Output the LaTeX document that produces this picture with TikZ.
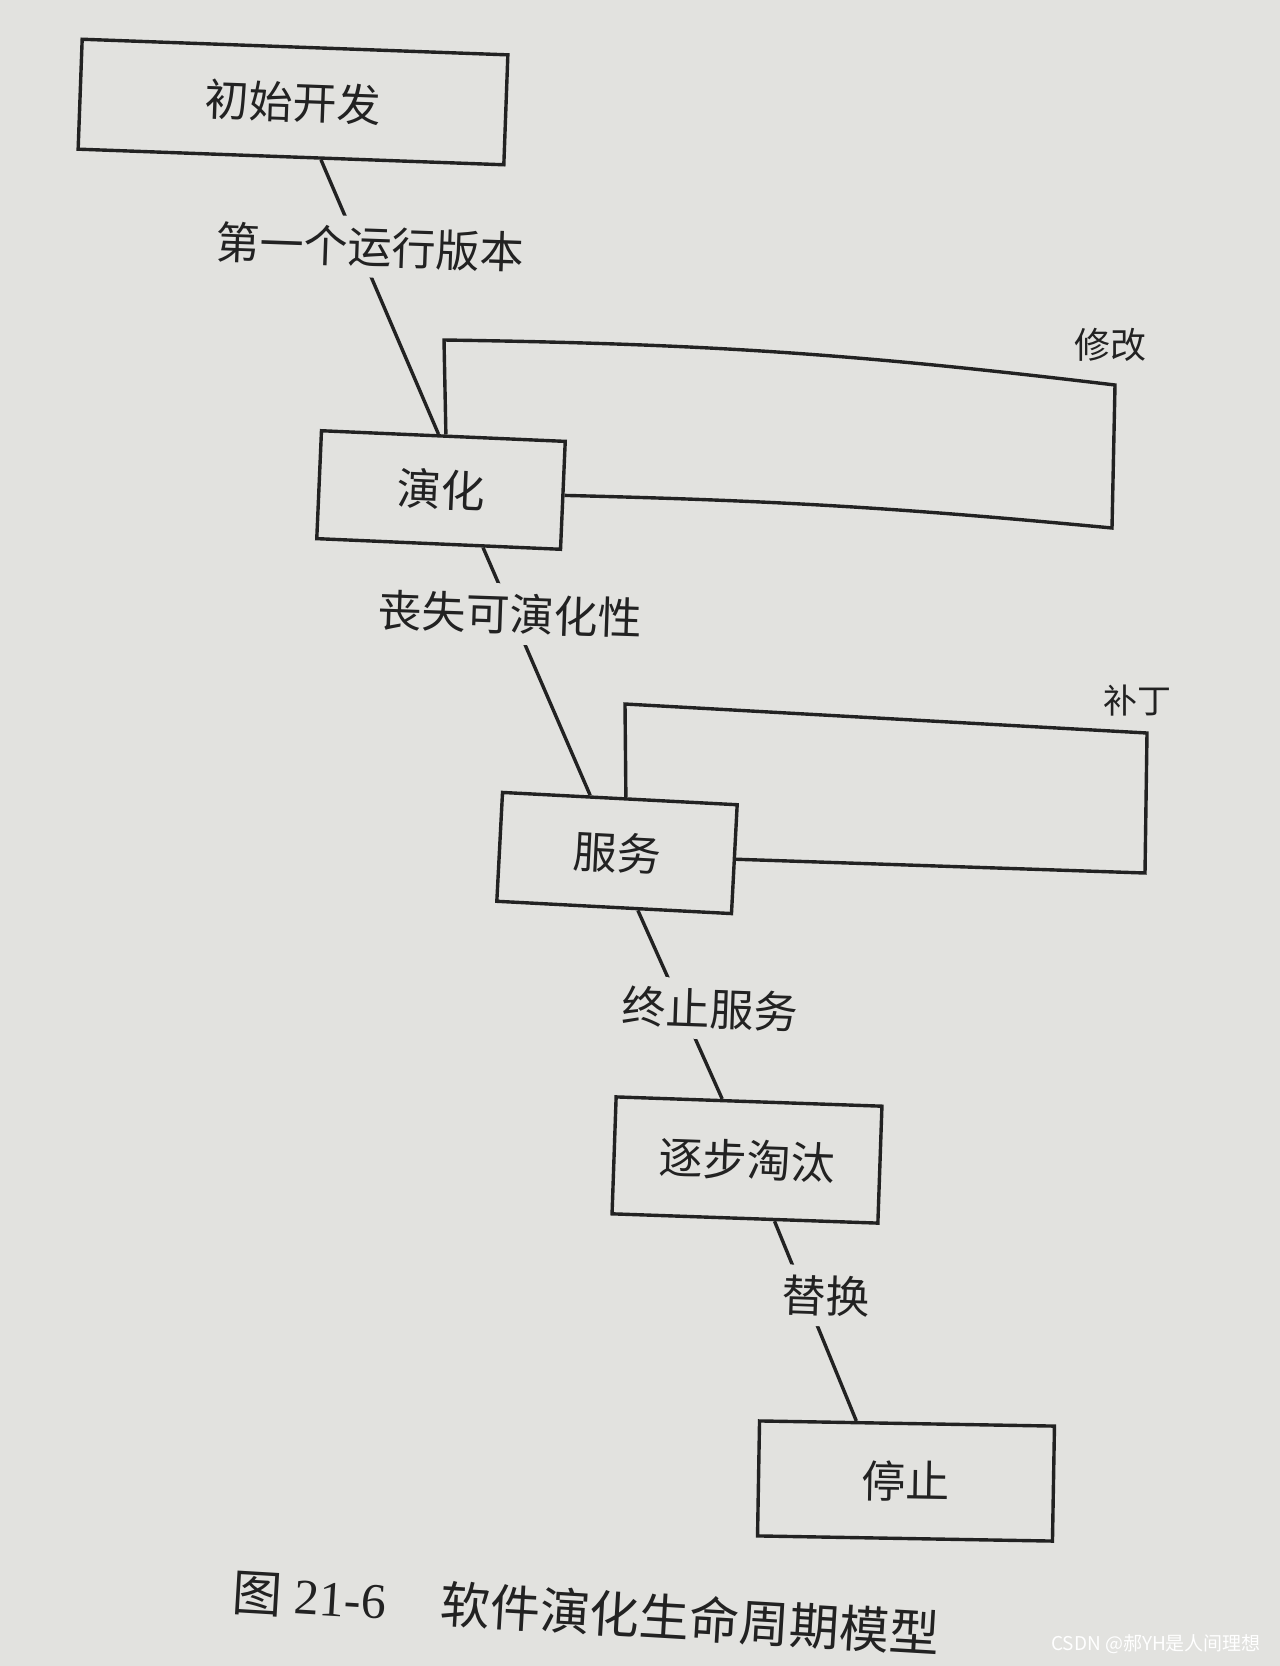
\documentclass[tikz,border=0pt]{standalone}
\usepackage{fontspec}
\setmainfont{Liberation Serif}
\newfontfamily\cjk{Noto Sans CJK SC}
\usetikzlibrary{calc}
\definecolor{paper}{RGB}{226,226,223}
\definecolor{ink}{RGB}{34,34,34}
\tikzset{
  stage/.style={draw=ink, line width=1.7pt, rotate=-2.5, text=ink, inner sep=0pt,
    font=\cjk\fontsize{22}{22}\selectfont},
  tag/.style={fill=paper, inner sep=5pt, rotate=-2, text=ink,
    font=\cjk\fontsize{22}{22}\selectfont},
  side/.style={text=ink, font=\cjk\fontsize{18}{18}\selectfont},
  link/.style={draw=ink, line width=1.7pt},
}

\begin{document}
\begin{tikzpicture}[x=0.5pt, y=-0.5pt]
  % Coordinates
  \coordinate (I) at (293,102);
  \coordinate (E) at (441,490);
  \coordinate (S) at (617,853);
  \coordinate (F) at (747,1160);
  \coordinate (T) at (906,1481);
  \coordinate (M1) at (444,340);
  \coordinate (M2) at (1115,385);
  \coordinate (M3) at (1112,528);
  \coordinate (P1) at (625,704);
  \coordinate (P2) at (1147,733);
  \coordinate (P3) at (1145,873);

  % Paper
  \fill[paper] (0,0) rectangle (1280,1666);
  \useasboundingbox (0,0) rectangle (1280,1666);

  % Drawing
  \node[stage, rotate=0.4, minimum width=213pt, minimum height=55pt] (init) at (I) {初始开发};
  \node[stage, minimum width=122pt, minimum height=54pt] (evo) at (E) {演化};
  \node[stage, rotate=-0.5, minimum width=117.5pt, minimum height=54.5pt] (serv) at (S) {服务};
  \node[stage, rotate=0.5, minimum width=133pt, minimum height=58.5pt] (fade) at (F) {逐步淘汰};
  \node[stage, rotate=1.5, minimum width=147.5pt, minimum height=57.5pt] (stop) at (T) {停止};

  \draw[link] ($(init.south west)!0.57!(init.south east)$) -- ($(evo.north west)!0.48!(evo.north east)$);
  \draw[link] ($(evo.south west)!0.68!(evo.south east)$) -- ($(serv.north west)!0.375!(serv.north east)$);
  \draw[link] ($(serv.south west)!0.6!(serv.south east)$) -- ($(fade.north west)!0.4!(fade.north east)$);
  \draw[link] ($(fade.south west)!0.61!(fade.south east)$) -- ($(stop.north west)!0.33!(stop.north east)$);

  % loops
  \draw[link] ($(evo.north west)!0.51!(evo.north east)$) -- (M1) to[bend left=3] (M2) -- (M3) to[bend right=2] (evo.east);
  \draw[link] ($(serv.north west)!0.525!(serv.north east)$) -- (P1) -- (P2) -- (P3) -- (serv.east);

  \node[tag] (l1) at (370,247) {第一个运行版本};
  \node[tag] (l2) at (510,614) {丧失可演化性};
  \node[tag] (l3) at (710,1009) {终止服务};
  \node[tag] (l4) at (826,1296) {替换};
  \node[side] (mod) at (1110,345) {修改};
  \node[side, font=\cjk\fontsize{17}{17}\selectfont] (patch) at (1137,701) {补丁};

  \node[text=ink, rotate=-3.4, font=\fontsize{25}{25}\selectfont] (cap) at (586,1612)
    {{\cjk 图} 21-6\hspace{27pt}{\cjk 软件演化生命周期模型}};
  \node[text=white, font=\cjk\fontsize{9.5}{9.5}\selectfont] (mark) at (1156,1644) {CSDN @郝YH是人间理想};
\end{tikzpicture}
\end{document}
